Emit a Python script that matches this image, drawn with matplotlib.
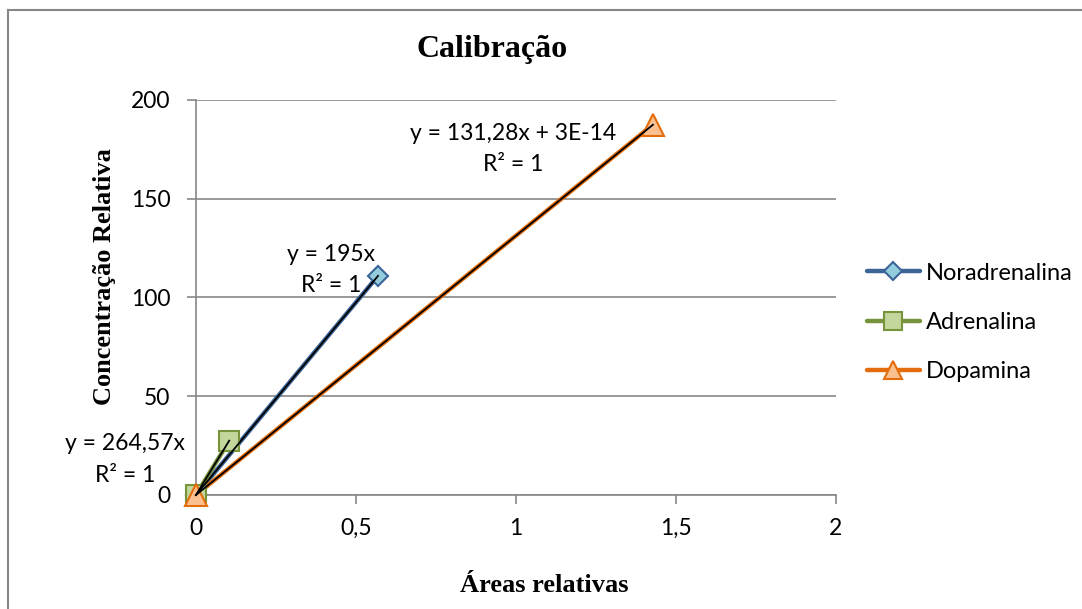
import matplotlib
matplotlib.use("Agg")
import matplotlib.pyplot as plt
from matplotlib.lines import Line2D
import numpy as np

# dados de calibração
series = ["Noradrenalina", "Adrenalina", "Dopamina"]
nor_x = [0, 0.569]
nor_y = [0, 111]
adr_x = [0, 0.104]
adr_y = [0, 27.5]
dop_x = [0, 1.428]
dop_y = [0, 187.5]
slopes = [195, 264.57, 131.28]
eq_labels = ["y = 195x\nR² = 1", "y = 264,57x\nR² = 1", "y = 131,28x + 3E-14\nR² = 1"]
eq_pos = [(0.422, 114), (-0.222, 18), (0.99, 175)]

xticks = [0, 0.5, 1, 1.5, 2]
xticklabels = ["0", "0,5", "1", "1,5", "2"]
yticks = [0, 50, 100, 150, 200]

line_cols = ["#3a6596", "#77933c", "#e46c0a"]
face_cols = ["#93cddd", "#c3d69b", "#fac090"]
markers = ["D", "s", "^"]
msizes = [10.5, 15, 16]

sans = ["Lato", "DejaVu Sans"]
serif = ["Liberation Serif", "DejaVu Serif"]

fig = plt.figure(figsize=(10.82, 6.09), dpi=100)
ax = fig.add_axes([0.1811, 0.1872, 0.5915, 0.6486])

xs = [nor_x, adr_x, dop_x]
ys = [nor_y, adr_y, dop_y]
handles = []
for i in range(3):
    ax.plot(xs[i], ys[i], color=line_cols[i], lw=3.2, zorder=3 + i, solid_capstyle="round")
    ax.plot(xs[i], ys[i], ls="none", marker=markers[i], ms=msizes[i],
            mfc=face_cols[i], mec=line_cols[i], mew=1.5, zorder=6 + i, clip_on=False)
    tx = np.array([0, xs[i][-1]])
    ax.plot(tx, slopes[i] * tx, color="black", lw=1.3, zorder=10, clip_on=False)
    handles.append(Line2D([], [], color=line_cols[i], lw=3.2, marker=markers[i],
                          ms=msizes[i] * 0.85, mfc=face_cols[i], mec=line_cols[i],
                          mew=1.5, solid_capstyle="round"))

# rótulos das linhas de tendência
for lab, (px, py) in zip(eq_labels, eq_pos):
    ax.text(px, py, lab, ha="center", va="center", fontsize=16.5,
            family=sans, linespacing=1.6, zorder=12)

ax.set_xlim(0, 2)
ax.set_ylim(0, 200)
ax.set_xticks(xticks)
ax.set_xticklabels(xticklabels)
ax.set_yticks(yticks)
ax.grid(axis="y", color="#878787", lw=1.2)
ax.set_axisbelow(True)
for s in ["top", "right"]:
    ax.spines[s].set_visible(False)
for s in ["left", "bottom"]:
    ax.spines[s].set_color("#878787")
    ax.spines[s].set_linewidth(1.2)
ax.tick_params(axis="both", colors="#878787", width=1.2, length=6.5, labelcolor="black",
               labelsize=16.5)
ax.tick_params(axis="x", pad=10)
ax.tick_params(axis="y", pad=12)
for lab in ax.get_xticklabels() + ax.get_yticklabels():
    lab.set_family(sans)

fig.text(492 / 1082, 1 - 50 / 609, "Calibração", fontsize=23, fontweight="bold",
         family=serif, ha="center", va="center")
fig.text(544 / 1082, 1 - 585 / 609, "Áreas relativas", fontsize=19, fontweight="bold",
         family=serif, ha="center", va="center")
fig.text(105 / 1082, 1 - 277 / 609, "Concentração Relativa", fontsize=19, fontweight="bold",
         family=serif, ha="center", va="center", rotation=90)

leg = fig.legend(handles, series, loc="center left", bbox_to_anchor=(0.8012, 0.4706),
                 frameon=False, prop={"family": sans, "size": 17},
                 handlelength=2.25, handletextpad=0.25, labelspacing=1.2,
                 borderpad=0, borderaxespad=0)

# moldura do gráfico
fig.add_artist(Line2D([8 / 1082, 8 / 1082], [0, 1 - 10 / 609], transform=fig.transFigure,
                      color="#878787", lw=1.5))
fig.add_artist(Line2D([8 / 1082, 1], [1 - 10 / 609, 1 - 10 / 609], transform=fig.transFigure,
                      color="#878787", lw=1.5))

fig.savefig("out.png", dpi=100)
